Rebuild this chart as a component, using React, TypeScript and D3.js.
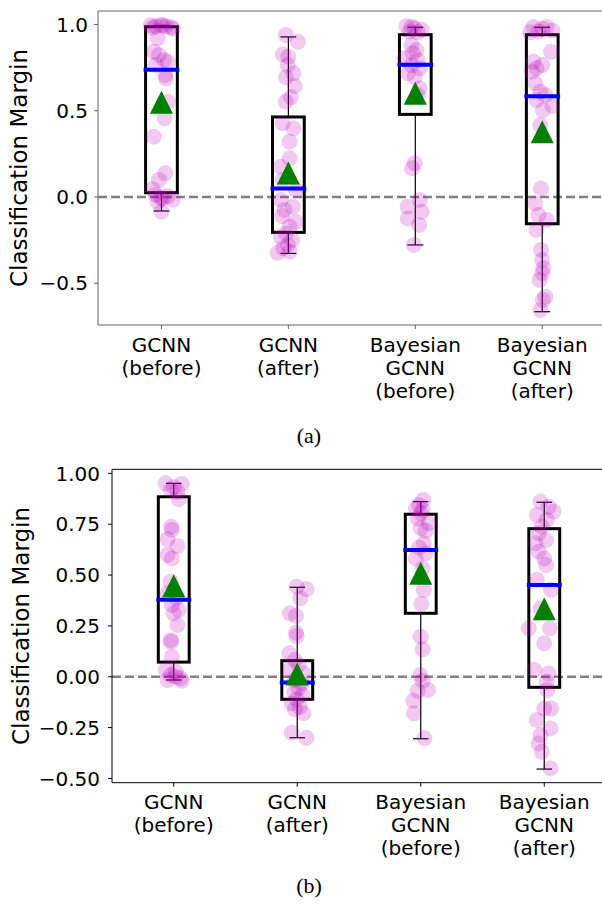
import React, { useEffect, useRef } from 'react';
import * as d3 from 'd3';

// Category labels (multi-line tick labels)
const categories: string[][] = [
  ['GCNN', '(before)'],
  ['GCNN', '(after)'],
  ['Bayesian', 'GCNN', '(before)'],
  ['Bayesian', 'GCNN', '(after)'],
];

// Panel (a): box summary values
const aWhiskerLow = [-0.081, -0.327, -0.278, -0.665];
const aQ1 = [0.025, -0.205, 0.479, -0.155];
const aMedian = [0.738, 0.05, 0.767, 0.584];
const aQ3 = [0.987, 0.464, 0.941, 0.941];
const aWhiskerHigh = [0.995, 0.928, 0.984, 0.984];
const aMean = [0.55, 0.139, 0.601, 0.379];

// Panel (a): individual points [value, horizontal jitter in category units]
const aGcnnBefore: [number, number][] = [
  [0.995, -0.085], [0.99, -0.045], [0.998, -0.005], [0.99, 0.035], [0.985, 0.075],
  [0.98, -0.07], [0.993, 0.01], [0.975, 0.09], [0.92, -0.03], [0.842, -0.06],
  [0.823, -0.02], [0.794, 0.02], [0.784, 0.05], [0.765, -0.045], [0.707, 0.03],
  [0.688, 0.035], [0.553, 0.05], [0.456, 0.025], [0.35, -0.06], [0.137, 0.03],
  [0.099, -0.02], [0.045, -0.07], [0.012, -0.045], [-0.008, 0.01], [-0.017, 0.09],
  [0.004, 0.05], [-0.03, -0.03], [-0.005, -0.005], [-0.085, 0],
];
const aGcnnAfter: [number, number][] = [
  [0.939, -0.02], [0.9, 0.075], [0.827, -0.045], [0.813, 0], [0.765, -0.005],
  [0.717, 0.04], [0.694, -0.02], [0.643, 0.05], [0.578, 0.02], [0.553, -0.02],
  [0.427, -0.045], [0.398, 0.04], [0.321, 0.01], [0.224, 0.01], [0.176, -0.06],
  [0.099, -0.045], [0.041, 0.06], [-0.017, -0.06], [-0.056, 0.035], [-0.075, -0.03],
  [-0.11, -0.05], [-0.143, 0.06], [-0.172, 0.01], [-0.211, -0.02], [-0.234, -0.06],
  [-0.249, 0.03], [-0.278, -0.005], [-0.297, -0.04], [-0.323, -0.085], [-0.317, 0.01],
];
const aBayesBefore: [number, number][] = [
  [0.99, -0.07], [0.978, -0.005], [0.97, 0.05], [0.96, -0.045], [0.955, 0.02],
  [0.985, -0.03], [0.881, -0.03], [0.852, 0.01], [0.833, -0.02], [0.804, -0.085],
  [0.794, 0.02], [0.765, -0.03], [0.746, 0.035], [0.717, -0.06], [0.697, -0.005],
  [0.63, 0.035], [0.591, 0.02], [0.195, -0.005], [0.166, -0.025], [-0.017, 0.035],
  [-0.056, -0.06], [-0.085, 0.05], [-0.124, -0.06], [-0.162, 0.03], [-0.278, -0.01],
];
const aBayesAfter: [number, number][] = [
  [0.985, -0.07], [0.975, 0], [0.985, 0.035], [0.96, -0.03], [0.965, 0.08],
  [0.955, -0.095], [0.842, 0.07], [0.784, -0.07], [0.765, 0], [0.746, -0.045],
  [0.726, -0.08], [0.659, -0.055], [0.61, -0.015], [0.591, 0.025], [0.562, -0.045],
  [0.528, 0.08], [0.504, 0.005], [0.417, -0.015], [0.05, -0.01], [-0.037, -0.055],
  [-0.104, -0.03], [-0.133, 0.035], [-0.191, -0.045], [-0.307, -0.01], [-0.365, 0],
  [-0.413, 0.01], [-0.442, 0], [-0.481, -0.02], [-0.578, 0.025], [-0.597, 0.005],
  [-0.655, -0.015],
];

// Panel (b): box summary values
const bWhiskerLow = [-0.016, -0.3, -0.305, -0.454];
const bQ1 = [0.072, -0.111, 0.312, -0.052];
const bMedian = [0.379, -0.028, 0.623, 0.451];
const bQ3 = [0.885, 0.079, 0.799, 0.728];
const bWhiskerHigh = [0.951, 0.44, 0.861, 0.858];
const bMean = [0.447, 0.013, 0.509, 0.334];

// Panel (b): individual points
const bGcnnBefore: [number, number][] = [
  [0.951, -0.065], [0.948, 0.065], [0.932, 0], [0.918, -0.025], [0.91, 0.03],
  [0.873, 0.04], [0.738, -0.02], [0.722, -0.015], [0.676, -0.05], [0.643, 0.03],
  [0.599, -0.05], [0.582, -0.015], [0.467, -0.025], [0.41, -0.05], [0.386, 0.02],
  [0.353, -0.015], [0.328, 0.04], [0.312, 0], [0.254, 0.03], [0.18, -0.025],
  [0.172, -0.02], [0.098, -0.015], [0.033, -0.065], [0.025, 0.015], [0.008, -0.025],
  [-0.008, 0.055], [-0.016, -0.05], [-0.02, 0.065], [0, 0.015],
];
const bGcnnAfter: [number, number][] = [
  [0.443, -0.005], [0.43, 0.075], [0.386, 0.025], [0.312, -0.06], [0.299, -0.01],
  [0.217, -0.01], [0.2, -0.005], [0.115, -0.065], [0.082, -0.02], [0.058, 0.01],
  [0.033, -0.06], [0.016, 0.05], [-0.016, -0.02], [-0.033, 0.035], [-0.057, 0.01],
  [-0.074, -0.025], [-0.09, 0.045], [-0.111, -0.005], [-0.131, -0.045], [-0.148, 0.02],
  [-0.16, -0.02], [-0.18, 0.05], [-0.275, -0.045], [-0.3, 0.075],
];
const bBayesBefore: [number, number][] = [
  [0.869, 0.02], [0.845, -0.015], [0.828, -0.04], [0.82, 0.015], [0.804, 0],
  [0.779, -0.025], [0.755, 0.065], [0.73, 0], [0.718, 0.04], [0.656, 0.025],
  [0.636, -0.015], [0.607, 0.04], [0.582, -0.04], [0.533, 0.015], [0.426, 0.025],
  [0.358, 0.005], [0.197, 0], [0.135, 0.015], [0.008, -0.005], [-0.02, 0.015],
  [-0.065, 0.06], [-0.07, -0.025], [-0.118, -0.06], [-0.18, -0.055], [-0.303, 0.03],
];
const bBayesAfter: [number, number][] = [
  [0.861, -0.03], [0.836, 0.035], [0.812, 0.075], [0.795, -0.06], [0.771, 0.02],
  [0.738, -0.02], [0.705, -0.045], [0.672, 0.015], [0.656, -0.07], [0.615, -0.045],
  [0.582, 0], [0.549, 0.015], [0.476, -0.06], [0.426, 0.055], [0.336, -0.03],
  [0.238, -0.125], [0.238, 0.045], [0.164, 0], [0.033, -0.08], [0.016, 0.035],
  [-0.025, 0.02], [-0.065, 0.025], [-0.156, 0], [-0.156, 0.055], [-0.213, -0.06],
  [-0.254, 0.05], [-0.287, -0.03], [-0.328, -0.045], [-0.369, -0.02], [-0.451, 0.05],
];

const aTicks = [-0.5, 0, 0.5, 1.0];
const bTicks = [-0.5, -0.25, 0, 0.25, 0.5, 0.75, 1.0];

const WIDTH = 602;
const HEIGHT = 906;
const FONT = 'DejaVu Sans, sans-serif';

function drawPanel(svg, cfg) {
  const { left, right, top, bottom, yDomain, ticks, fmt, spine, points, stats, caption, captionY, labelPad } = cfg;
  const x = d3.scaleLinear().domain([0.5, 4.5]).range([left, right]);
  const y = d3.scaleLinear().domain(yDomain).range([bottom, top]);
  const g = svg.append('g');
  const halfBox = 0.125;

  // zero reference line
  g.append('line')
    .attr('x1', left).attr('x2', right)
    .attr('y1', y(0)).attr('y2', y(0))
    .attr('stroke', '#808080')
    .attr('stroke-width', 2.5)
    .attr('stroke-dasharray', '9,4');

  // boxes + whiskers
  categories.forEach((_, i) => {
    const c = i + 1;
    [[stats.q1[i], stats.low[i]], [stats.q3[i], stats.high[i]]].forEach(([a, b]) => {
      g.append('line')
        .attr('x1', x(c)).attr('x2', x(c))
        .attr('y1', y(a)).attr('y2', y(b))
        .attr('stroke', '#000').attr('stroke-width', 1.2);
    });
    [stats.low[i], stats.high[i]].forEach(v => {
      g.append('line')
        .attr('x1', x(c - halfBox / 2)).attr('x2', x(c + halfBox / 2))
        .attr('y1', y(v)).attr('y2', y(v))
        .attr('stroke', '#000').attr('stroke-width', 1.2);
    });
    g.append('rect')
      .attr('x', x(c - halfBox))
      .attr('y', y(stats.q3[i]))
      .attr('width', x(c + halfBox) - x(c - halfBox))
      .attr('height', y(stats.q1[i]) - y(stats.q3[i]))
      .attr('fill', 'none')
      .attr('stroke', '#000')
      .attr('stroke-width', 3);
  });

  // scattered observations (over the boxes)
  points.forEach((pts, i) => {
    g.selectAll(null)
      .data(pts)
      .enter()
      .append('circle')
      .attr('cx', d => x(i + 1 + d[1]))
      .attr('cy', d => y(d[0]))
      .attr('r', 8)
      .attr('fill', '#bf00bf')
      .attr('fill-opacity', 0.21);
  });

  // medians and means on top
  categories.forEach((_, i) => {
    const c = i + 1;
    g.append('line')
      .attr('x1', x(c - halfBox)).attr('x2', x(c + halfBox))
      .attr('y1', y(stats.median[i])).attr('y2', y(stats.median[i]))
      .attr('stroke', '#0000ff')
      .attr('stroke-width', 4)
      .attr('stroke-linecap', 'square');
    const s = 11.5;
    const mx = x(c), my = y(stats.mean[i]);
    g.append('path')
      .attr('d', `M${mx},${my - s}L${mx - s},${my + s}L${mx + s},${my + s}Z`)
      .attr('fill', '#008000');
  });

  // spines
  g.append('path')
    .attr('d', `M${right},${top}H${left}V${bottom}H${right}`)
    .attr('fill', 'none')
    .attr('stroke', spine)
    .attr('stroke-width', 1);

  // y axis ticks
  ticks.forEach(t => {
    g.append('line')
      .attr('x1', left - 4).attr('x2', left)
      .attr('y1', y(t)).attr('y2', y(t))
      .attr('stroke', spine);
    g.append('text')
      .attr('x', left - labelPad)
      .attr('y', y(t))
      .attr('dy', '0.36em')
      .attr('text-anchor', 'end')
      .style('font-family', FONT)
      .style('font-size', '20px')
      .style('fill', '#000')
      .text(d3.format(fmt)(t));
  });

  // x axis ticks
  categories.forEach((lines, i) => {
    const cx = x(i + 1);
    g.append('line')
      .attr('x1', cx).attr('x2', cx)
      .attr('y1', bottom).attr('y2', bottom + 4)
      .attr('stroke', spine);
    lines.forEach((ln, j) => {
      g.append('text')
        .attr('x', cx)
        .attr('y', bottom + 26.5 + j * 23)
        .attr('text-anchor', 'middle')
        .style('font-family', FONT)
        .style('font-size', '20px')
        .style('fill', '#000')
        .text(ln);
    });
  });

  // y label
  g.append('text')
    .attr('transform', `translate(${cfg.yLabelX},${(top + bottom) / 2}) rotate(-90)`)
    .attr('text-anchor', 'middle')
    .attr('dy', '0.35em')
    .style('font-family', FONT)
    .style('font-size', '23px')
    .style('fill', '#000')
    .text('Classification Margin');

  // caption
  g.append('text')
    .attr('x', 309)
    .attr('y', captionY)
    .attr('text-anchor', 'middle')
    .style('font-family', 'Liberation Serif, Times New Roman, serif')
    .style('font-size', '22px')
    .style('fill', '#000')
    .text(caption);
}

export default function App() {
  const ref = useRef<SVGSVGElement>(null);

  useEffect(() => {
    if (!ref.current) return;
    const svg = d3.select(ref.current);
    svg.selectAll('*').remove();

    svg.append('rect').attr('width', WIDTH).attr('height', HEIGHT).attr('fill', '#fff');

    drawPanel(svg, {
      left: 98, right: 605.7, top: 11, bottom: 325,
      yDomain: [-0.742, 1.0783],
      ticks: aTicks, fmt: '.1f', spine: '#666', labelPad: 10,
      yLabelX: 19,
      points: [aGcnnBefore, aGcnnAfter, aBayesBefore, aBayesAfter],
      stats: { low: aWhiskerLow, q1: aQ1, median: aMedian, q3: aQ3, high: aWhiskerHigh, mean: aMean },
      caption: '(a)', captionY: 443,
    });

    drawPanel(svg, {
      left: 112, right: 606, top: 469.3, bottom: 782.7,
      yDomain: [-0.521, 1.02],
      ticks: bTicks, fmt: '.2f', spine: '#000', labelPad: 12,
      yLabelX: 21,
      points: [bGcnnBefore, bGcnnAfter, bBayesBefore, bBayesAfter],
      stats: { low: bWhiskerLow, q1: bQ1, median: bMedian, q3: bQ3, high: bWhiskerHigh, mean: bMean },
      caption: '(b)', captionY: 893,
    });
  }, []);

  return (
    <svg
      ref={ref}
      width={WIDTH}
      height={HEIGHT}
      style={{ position: 'absolute', left: 0, top: 0, display: 'block' }}
    />
  );
}
